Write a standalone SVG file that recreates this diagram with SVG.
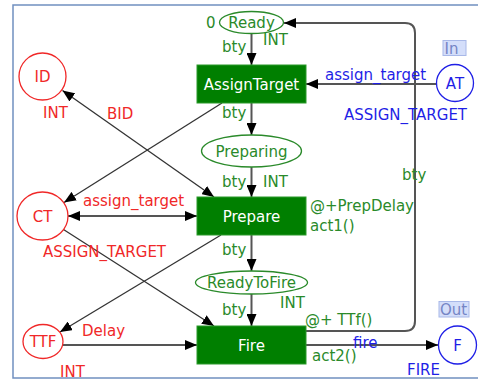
<svg xmlns="http://www.w3.org/2000/svg" width="478" height="381" viewBox="0 0 478 381">
  <defs>
    <marker id="arr" viewBox="0 0 12 10" refX="12" refY="5" markerWidth="12" markerHeight="10" markerUnits="userSpaceOnUse" orient="auto-start-reverse">
      <path d="M0,0 L12,5 L0,10 Z" fill="#000"/>
    </marker>
    <style>
      text { font-family: "DejaVu Sans", Verdana, sans-serif; font-size: 15px; }
      .g { fill: #2a8a2a; }
      .r { fill: #f02828; }
      .b { fill: #1f1fe6; }
      .tl { fill: #ffffff; text-anchor: middle; }
      .mid { text-anchor: middle; }
      .trans { fill: #007f00; stroke: #2a9a2a; stroke-width: 1; }
      .pg { fill: #fff; stroke: #2a8a2a; stroke-width: 1.3; }
      .pr { fill: #fff; stroke: #f02828; stroke-width: 1.3; }
      .pb { fill: #fff; stroke: #1f1fe6; stroke-width: 1.3; }
      .tag { fill: #d4defa; stroke: #a8b8e8; stroke-width: 1; }
      .tagt { fill: #7585c5; font-size: 15px; }
      .arc { fill: none; stroke: #555; stroke-width: 2; }
      .diag { fill: none; stroke: #333; stroke-width: 1.3; }
    </style>
  </defs>

  <!-- page frame -->
  <path d="M480,5 H13 V378 H480" fill="none" stroke="#7090c0" stroke-width="1.5"/>

  <!-- connectors -->
  <g id="arcs">
    <path class="arc" d="M251.5,34 V65" marker-end="url(#arr)"/>
    <path class="arc" d="M251.5,103 V135" marker-end="url(#arr)"/>
    <path class="arc" d="M251.5,167 V197" marker-end="url(#arr)"/>
    <path class="arc" d="M251.5,235 V271" marker-end="url(#arr)"/>
    <path class="arc" d="M251.5,294 V326" marker-end="url(#arr)"/>
    <path class="arc" d="M436,84 H306" marker-end="url(#arr)"/>
    <path class="arc" d="M68,216 H197" marker-start="url(#arr)" marker-end="url(#arr)"/>
    <path class="arc" d="M63,345 H197" marker-end="url(#arr)"/>
    <path class="arc" d="M306,345 H438" marker-end="url(#arr)"/>
    <path class="arc" d="M306,331 H405 Q415,331 415,321 V33 Q415,23 405,23 H284" marker-end="url(#arr)"/>
    <path class="diag" d="M62.5,90.5 L214,197" marker-start="url(#arr)" marker-end="url(#arr)"/>
    <path class="diag" d="M222,103 L64,202.5" marker-end="url(#arr)"/>
    <path class="diag" d="M63.5,229.5 L214,326" marker-end="url(#arr)"/>
    <path class="diag" d="M221,235 L60,332" marker-end="url(#arr)"/>
  </g>

  <!-- arc inscriptions -->
  <g id="inscriptions">
    <text class="g" x="222" y="52">bty</text>
    <text class="g" x="222" y="118">bty</text>
    <text class="g" x="222" y="187">bty</text>
    <text class="g" x="222" y="255">bty</text>
    <text class="g" x="222" y="315">bty</text>
    <text class="g" x="402" y="180">bty</text>
    <text class="b" x="325" y="80">assign_target</text>
    <text class="r" x="83" y="206">assign_target</text>
    <text class="r" x="107" y="119">BID</text>
    <text class="r" x="82" y="336">Delay</text>
    <text class="b" x="353" y="348">fire</text>
  </g>

  <g id="Ready">
    <ellipse class="pg" cx="251.5" cy="22.5" rx="32" ry="11"/>
    <text class="g mid" x="251.5" y="28">Ready</text>
    <text class="g" x="206" y="28">0</text>
    <text class="g" x="263" y="45">INT</text>
  </g>

  <g id="AssignTarget">
    <rect class="trans" x="197" y="65" width="109" height="38"/>
    <text class="tl" x="251.5" y="89.5">AssignTarget</text>
  </g>

  <g id="Preparing">
    <ellipse class="pg" cx="251.5" cy="151" rx="50" ry="16"/>
    <text class="g mid" x="251.5" y="156.5">Preparing</text>
    <text class="g" x="263" y="187">INT</text>
  </g>

  <g id="Prepare">
    <rect class="trans" x="197" y="197" width="109" height="38"/>
    <text class="tl" x="251.5" y="221.5">Prepare</text>
    <text class="g" x="310" y="211">@+PrepDelay</text>
    <text class="g" x="310" y="231">act1()</text>
  </g>

  <g id="ReadyToFire">
    <ellipse class="pg" cx="251.5" cy="282.5" rx="56" ry="11.5"/>
    <text class="g mid" x="251.5" y="288">ReadyToFire</text>
    <text class="g" x="280" y="308">INT</text>
  </g>

  <g id="Fire">
    <rect class="trans" x="197" y="326" width="109" height="38"/>
    <text class="tl" x="251.5" y="350.5">Fire</text>
    <text class="g" x="305" y="325">@+ TTf()</text>
    <text class="g" x="312" y="361">act2()</text>
  </g>

  <g id="ID">
    <circle class="pr" cx="42.5" cy="76.5" r="23.5"/>
    <text class="r mid" x="42.5" y="82">ID</text>
    <text class="r" x="43" y="118">INT</text>
  </g>

  <g id="CT">
    <ellipse class="pr" cx="42.5" cy="216" rx="25.5" ry="24"/>
    <text class="r mid" x="42.5" y="221.5">CT</text>
    <text class="r" x="43" y="257">ASSIGN_TARGET</text>
  </g>

  <g id="TTF">
    <ellipse class="pr" cx="43" cy="341.5" rx="20" ry="17"/>
    <text class="r mid" x="43" y="347">TTF</text>
    <text class="r" x="60" y="377">INT</text>
  </g>

  <g id="AT">
    <circle class="pb" cx="455" cy="83" r="18.5"/>
    <text class="b mid" x="455" y="88.5">AT</text>
    <text class="b" x="344" y="120">ASSIGN_TARGET</text>
    <rect class="tag" x="443" y="40.5" width="23" height="15"/>
    <text class="tagt" x="444.5" y="53.5">In</text>
  </g>

  <g id="F">
    <circle class="pb" cx="457.5" cy="345" r="19"/>
    <text class="b mid" x="457.5" y="350.5">F</text>
    <text class="b" x="407" y="375">FIRE</text>
    <rect class="tag" x="439" y="301.5" width="30" height="15.5"/>
    <text class="tagt" x="440" y="314.5">Out</text>
  </g>
</svg>
